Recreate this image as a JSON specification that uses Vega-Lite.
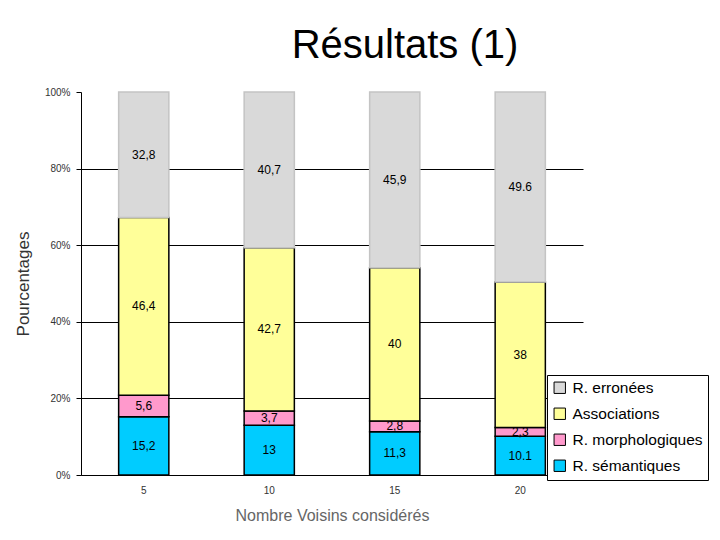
{
  "$schema": "https://vega.github.io/schema/vega-lite/v6.json",
  "autosize": {"type": "none"},
  "width": 502,
  "height": 383,
  "padding": {"left": 81, "top": 92, "right": 137, "bottom": 65},
  "background": "white",
  "title": {
    "text": "Résultats (1)",
    "anchor": "middle",
    "dx": 73,
    "offset": 21,
    "font": "Liberation Sans",
    "fontSize": 40,
    "fontWeight": "normal",
    "color": "black"
  },
  "data": {
    "values": [
      {"voisins": 5, "serie": "R. sémantiques", "rang": 1, "pct": 15.2, "label": "15,2"},
      {"voisins": 5, "serie": "R. morphologiques", "rang": 2, "pct": 5.6, "label": "5,6"},
      {"voisins": 5, "serie": "Associations", "rang": 3, "pct": 46.4, "label": "46,4"},
      {"voisins": 5, "serie": "R. erronées", "rang": 4, "pct": 32.8, "label": "32,8"},
      {"voisins": 10, "serie": "R. sémantiques", "rang": 1, "pct": 13, "label": "13"},
      {"voisins": 10, "serie": "R. morphologiques", "rang": 2, "pct": 3.7, "label": "3,7"},
      {"voisins": 10, "serie": "Associations", "rang": 3, "pct": 42.7, "label": "42,7"},
      {"voisins": 10, "serie": "R. erronées", "rang": 4, "pct": 40.7, "label": "40,7"},
      {"voisins": 15, "serie": "R. sémantiques", "rang": 1, "pct": 11.3, "label": "11,3"},
      {"voisins": 15, "serie": "R. morphologiques", "rang": 2, "pct": 2.8, "label": "2,8"},
      {"voisins": 15, "serie": "Associations", "rang": 3, "pct": 40, "label": "40"},
      {"voisins": 15, "serie": "R. erronées", "rang": 4, "pct": 45.9, "label": "45,9"},
      {"voisins": 20, "serie": "R. sémantiques", "rang": 1, "pct": 10.1, "label": "10.1"},
      {"voisins": 20, "serie": "R. morphologiques", "rang": 2, "pct": 2.3, "label": "2,3"},
      {"voisins": 20, "serie": "Associations", "rang": 3, "pct": 38, "label": "38"},
      {"voisins": 20, "serie": "R. erronées", "rang": 4, "pct": 49.6, "label": "49.6"}
    ]
  },
  "encoding": {
    "x": {
      "field": "voisins",
      "type": "ordinal",
      "title": "Nombre Voisins considérés",
      "scale": {"paddingInner": 0.6, "paddingOuter": 0.3},
      "axis": {
        "labelAngle": 0,
        "ticks": false,
        "labelPadding": 10,
        "titlePadding": 12,
        "titleFontSize": 16,
        "titleColor": "#666666",
        "domainColor": "black"
      }
    },
    "y": {
      "field": "pct",
      "type": "quantitative",
      "stack": "normalize",
      "title": "Pourcentages",
      "scale": {"domain": [0, 1]},
      "axis": {
        "format": "%",
        "values": [0, 0.2, 0.4, 0.6, 0.8, 1],
        "grid": true,
        "gridColor": "black",
        "gridOpacity": {"condition": {"test": "datum.value === 1", "value": 0}, "value": 1},
        "domainColor": "black",
        "tickColor": "black",
        "tickSize": 5,
        "labelPadding": 6,
        "titlePadding": 12,
        "titleFontSize": 17,
        "titleColor": "#333333"
      }
    },
    "order": {"field": "rang", "type": "quantitative"}
  },
  "layer": [
    {
      "mark": {"type": "bar", "strokeWidth": 1.5},
      "encoding": {
        "color": {
          "field": "serie",
          "type": "nominal",
          "scale": {
            "domain": ["R. erronées", "Associations", "R. morphologiques", "R. sémantiques"],
            "range": ["#d9d9d9", "#ffff99", "#ff99cc", "#00ccff"]
          },
          "legend": {
            "title": null,
            "orient": "none",
            "legendX": 466,
            "legendY": 283,
            "direction": "vertical"
          }
        },
        "stroke": {
          "condition": {"test": "datum.serie === 'R. erronées'", "value": "#c4c4c4"},
          "value": "black"
        }
      }
    },
    {
      "mark": {"type": "text", "font": "Liberation Sans", "fontSize": 12, "color": "black", "baseline": "middle"},
      "encoding": {
        "y": {"field": "pct", "type": "quantitative", "stack": "normalize", "bandPosition": 0.5},
        "text": {"field": "label", "type": "nominal"}
      }
    }
  ],
  "config": {
    "font": "Liberation Sans",
    "view": {"stroke": null},
    "axis": {
      "labelFont": "Liberation Sans",
      "labelFontSize": 10,
      "labelColor": "#333333",
      "titleFont": "Liberation Sans",
      "titleFontWeight": "normal"
    },
    "legend": {
      "strokeColor": "black",
      "fillColor": "white",
      "padding": 5,
      "labelFont": "Liberation Sans",
      "labelFontSize": 15.5,
      "labelColor": "black",
      "symbolType": "square",
      "symbolSize": 130,
      "symbolStrokeColor": "black",
      "symbolStrokeWidth": 1,
      "symbolOpacity": 1,
      "rowPadding": 9,
      "labelOffset": 5,
      "cornerRadius": 0
    }
  }
}
